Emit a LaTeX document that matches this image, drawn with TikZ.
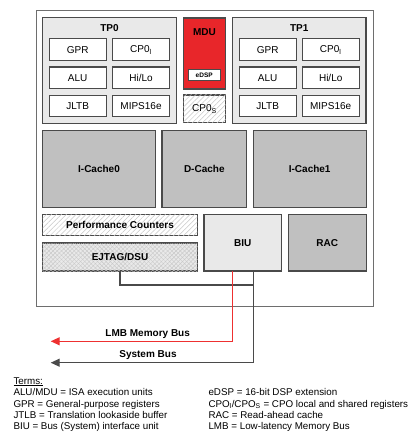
\documentclass[tikz,border=0pt]{standalone}
\usepackage{fontspec}
\setmainfont{Liberation Sans}
\usetikzlibrary{patterns.meta,arrows.meta}
\definecolor{bord}{HTML}{4A4A4A}
\definecolor{outerc}{HTML}{6E6E6E}
\definecolor{tpfill}{HTML}{E9E9E9}
\definecolor{cachefill}{HTML}{C0C0C0}
\definecolor{mdured}{HTML}{E8262A}
\definecolor{busred}{HTML}{EE3030}
\definecolor{hatchc}{HTML}{C8C8C8}
\newcommand{\sbs}[1]{\textsubscript{#1}}
\tikzset{
  blk/.style={draw=bord, line width=1.1pt, inner sep=0pt, outer sep=0pt, font=\fontsize{10}{11}\selectfont},
  cell/.style={blk, fill=white, minimum width=56.7pt, minimum height=21.5pt},
  grp/.style={blk, fill=tpfill, minimum width=133.6pt, minimum height=105.6pt},
  bl/.style={font=\fontsize{10}{11}\selectfont\bfseries},
  cache/.style={blk, fill=cachefill, minimum height=77pt, bl},
  hatch/.style={blk, fill=white, postaction={pattern={Lines[angle=45,distance=3.5pt,line width=0.5pt]}, pattern color=hatchc}},
  cross/.style={blk, fill=tpfill, postaction={pattern={Lines[angle=45,distance=3pt,line width=0.4pt]}, pattern color=hatchc}, postaction={pattern={Lines[angle=-45,distance=3pt,line width=0.4pt]}, pattern color=hatchc}},
  ttl/.style={bl, inner sep=0pt},
  bus/.style={draw=bord, line width=1.2pt},
  rbus/.style={draw=busred, line width=1.2pt},
  tip/.style={-{Triangle[length=9pt,width=8pt]}},
  term/.style={anchor=base west, inner sep=0pt, font=\fontsize{9.8}{11}\selectfont},
  buslbl/.style={bl, inner sep=0pt}
}
\begin{document}
\begin{tikzpicture}[x=1pt,y=-1pt]
\useasboundingbox (0,0) rectangle (412,444);
% outer
\node[draw=outerc, line width=1pt, fill=white, minimum width=337pt, minimum height=295pt, inner sep=0pt] (chip) at (204.5,158.5) {};
% TP0
\node[grp] (tp0) at (109.5,70.5) {};
\node[ttl] (tp0t) at (109.5,28.5) {TP0};
\node[cell] (gpr0) at (77.7,49.7) {GPR};
\node[cell] (cp00) at (141,49.7) {CP0\sbs{l}};
\node[cell] (alu0) at (77.7,77.7) {ALU};
\node[cell] (hilo0) at (141,77.7) {Hi/Lo};
\node[cell] (jltb0) at (77.7,105.8) {JLTB};
\node[cell] (mips0) at (141,105.8) {MIPS16e};
% MDU
\node[blk, fill=mdured, minimum width=42.4pt, minimum height=71pt] (mdu) at (204.5,53.5) {};
\node[ttl] (mdut) at (204.5,32.5) {MDU};
\node[blk, fill=white, line width=0.9pt, minimum width=31.7pt, minimum height=11.7pt, font=\fontsize{6.5}{7}\selectfont\bfseries] (edsp) at (204.2,74.8) {eDSP};
\node[hatch, minimum width=42.4pt, minimum height=27.7pt] (cp0s) at (204.5,108.8) {CP0\sbs{S}};
% TP1
\node[grp] (tp1) at (299.2,70.5) {};
\node[ttl] (tp1t) at (299.2,28.5) {TP1};
\node[cell] (gpr1) at (267.7,49.7) {GPR};
\node[cell] (cp01) at (330.7,49.7) {CP0\sbs{l}};
\node[cell] (alu1) at (267.7,77.7) {ALU};
\node[cell] (hilo1) at (330.7,77.7) {Hi/Lo};
\node[cell] (jltb1) at (267.7,105.8) {JLTB};
\node[cell] (mips1) at (330.7,105.8) {MIPS16e};
% caches
\node[cache, minimum width=112.6pt] (ic0) at (99,169.2) {I-Cache0};
\node[cache, minimum width=84.7pt] (dc) at (204.3,169.2) {D-Cache};
\node[cache, minimum width=112.7pt] (ic1) at (309.7,169.2) {I-Cache1};
% lower row
\node[hatch, minimum width=154.6pt, minimum height=21pt, bl] (perf) at (120,225.2) {Performance Counters};
\node[cross, minimum width=154.6pt, minimum height=28pt, bl] (ejtag) at (120,257) {EJTAG/DSU};
\node[blk, fill=tpfill, minimum width=77.7pt, minimum height=56.3pt, bl] (biu) at (242.8,242.8) {BIU};
\node[blk, fill=cachefill, minimum width=77.7pt, minimum height=56.3pt, bl] (rac) at (327.2,242.8) {RAC};
% bus coordinates
\coordinate (sysout) at (253.7,271);
\coordinate (join) at (253.7,285);
\coordinate (sysend) at (50.7,362.7);
\coordinate (lmbout) at (232.3,271);
\coordinate (lmbend) at (50.7,341.3);
\draw[bus] (ejtag.south) |- (join);
\draw[rbus, tip] (lmbout) |- (lmbend);
\draw[bus, tip] (sysout) |- (sysend);
\node[buslbl] (lmbl) at (147.7,334) {LMB Memory Bus};
\node[buslbl] (sysl) at (148,355.5) {System Bus};
% terms
\node[term] (terms) at (13.3,384) {\underline{Terms:}};
\node[term] (t1) at (13.3,395.7) {ALU/MDU = ISA execution units};
\node[term] (t2) at (13.3,407) {GPR = General-purpose registers};
\node[term] (t3) at (13.3,418.4) {JTLB = Translation lookaside buffer};
\node[term] (t4) at (13.3,429.7) {BIU = Bus (System) interface unit};
\node[term] (t5) at (208.3,395.7) {eDSP = 16-bit DSP extension};
\node[term] (t6) at (208.3,407) {CPO\sbs{l}/CPO\sbs{S} = CPO local and shared registers};
\node[term] (t7) at (208.3,418.4) {RAC = Read-ahead cache};
\node[term] (t8) at (208.3,429.7) {LMB = Low-latency Memory Bus};
\end{tikzpicture}
\end{document}
